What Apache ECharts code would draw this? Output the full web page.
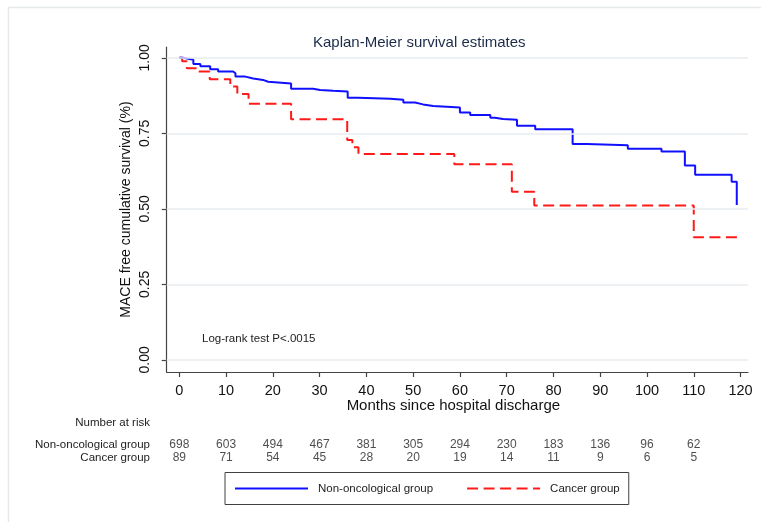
<!DOCTYPE html>
<html>
<head>
<meta charset="utf-8">
<script src="https://cdn.jsdelivr.net/npm/echarts@6/dist/echarts.min.js"></script>
<style>
html,body{margin:0;padding:0;background:#fff;}
#chart{width:761px;height:522px;}
</style>
</head>
<body>
<div id="chart"></div>
<script>
// ---- data ----
var blueMonths = [0, 0.9, 3.0, 4.5, 6.6, 8.3, 11.5, 12.0, 14.1, 15.8, 17.9, 19.0, 23.9, 28.6, 30.1, 32.9, 36.0, 38.2, 45.1, 47.9, 50.4, 52.1, 54.3, 60.0, 62.2, 66.5, 67.5, 69.2, 72.2, 76.1, 84.1, 87.1, 95.9, 103.1, 108.1, 110.3, 118.1, 119.2];
var blueSurv = [1.0, 0.994, 0.980, 0.972, 0.962, 0.955, 0.949, 0.938, 0.932, 0.927, 0.921, 0.915, 0.898, 0.894, 0.891, 0.889, 0.868, 0.865, 0.861, 0.852, 0.846, 0.841, 0.836, 0.819, 0.811, 0.802, 0.798, 0.795, 0.775, 0.764, 0.715, 0.711, 0.699, 0.690, 0.644, 0.613, 0.590, 0.513];
var redMonths = [0, 0.6, 1.6, 4.0, 6.5, 10.9, 12.4, 14.8, 23.9, 35.9, 37.0, 38.3, 58.8, 71.1, 75.9, 110.0, 119.4];
var redSurv = [1.0, 0.989, 0.966, 0.955, 0.929, 0.905, 0.880, 0.848, 0.797, 0.728, 0.704, 0.682, 0.648, 0.557, 0.511, 0.406, 0.406];
var xTicks = [0, 10, 20, 30, 40, 50, 60, 70, 80, 90, 100, 110, 120];
var yTicks = [0, 0.25, 0.5, 0.75, 1.0];
var riskMonths = [0, 10, 20, 30, 40, 50, 60, 70, 80, 90, 100, 110];
var nonOncRisk = [698, 603, 494, 467, 381, 305, 294, 230, 183, 136, 96, 62];
var cancerRisk = [89, 71, 54, 45, 28, 20, 19, 14, 11, 9, 6, 5];
var groupNames = ['Non-oncological group', 'Cancer group'];

// ---- build ----
function pairs(xs, ys) { return xs.map(function (x, i) { return [x, ys[i]]; }); }
var FONT = '"Liberation Sans", Arial, sans-serif';
var XMIN = -2.7, XMAX = 121.6;
var riskData = [];
riskMonths.forEach(function (m, i) {
  riskData.push([m, groupNames[0], nonOncRisk[i]]);
  riskData.push([m, groupNames[1], cancerRisk[i]]);
});

var chart = echarts.init(document.getElementById('chart'), null, {renderer: 'canvas'});
chart.setOption({
  backgroundColor: '#ffffff',
  animation: false,
  textStyle: {fontFamily: FONT},
  title: {
    text: 'Kaplan-Meier survival estimates',
    left: 313, top: 35, padding: 0,
    textStyle: {fontFamily: FONT, fontSize: 15, fontWeight: 'normal', color: '#1c2b4a'}
  },
  graphic: [
    {type: 'rect', shape: {x: 8.5, y: 7.5, width: 800, height: 600}, style: {fill: null, stroke: '#e4eaea', lineWidth: 1.5}, silent: true, z: -10},
    {type: 'text', x: 202, y: 339, style: {text: 'Log-rank test P<.0015', font: '11.5px ' + FONT, fill: '#222', textVerticalAlign: 'middle'}},
    {type: 'text', x: 150, y: 423, style: {text: 'Number at risk', font: '11.5px ' + FONT, fill: '#222', textAlign: 'right', textVerticalAlign: 'middle'}}
  ],
  legend: {
    left: 225, top: 472.5,
    padding: [10, 9, 10, 9],
    borderColor: '#404040', borderWidth: 1,
    itemWidth: 73, itemHeight: 14, itemGap: 33,
    itemStyle: {opacity: 0},
    textStyle: {fontFamily: FONT, fontSize: 11.5, color: '#222', padding: [0, 0, 0, 5]},
    data: groupNames
  },
  grid: [
    {left: 166.7, right: 13, top: 47, bottom: 150, containLabel: false},
    {left: 166.7, right: 13, top: 438, height: 26.7, containLabel: false}
  ],
  xAxis: [
    {
      type: 'value', gridIndex: 0, min: XMIN, max: XMAX,
      name: 'Months since hospital discharge', nameLocation: 'middle', nameGap: 26,
      nameMoveOverlap: false,
      nameTextStyle: {fontFamily: FONT, fontSize: 15, color: '#111', padding: [0, 8, 0, 0]},
      axisLine: {show: true, onZero: false, lineStyle: {color: '#444', width: 1.2}},
      axisTick: {show: true, length: 5, customValues: xTicks, lineStyle: {color: '#444', width: 1.2}},
      axisLabel: {customValues: xTicks, margin: 11, fontFamily: FONT, fontSize: 14.5, color: '#111'},
      splitLine: {show: false}
    },
    {
      type: 'value', gridIndex: 1, min: XMIN, max: XMAX, show: false
    }
  ],
  yAxis: [
    {
      type: 'value', gridIndex: 0, min: -0.04, max: 1.036,
      name: 'MACE free cumulative survival (%)', nameLocation: 'middle', nameGap: 33.5,
      nameMoveOverlap: false,
      nameTextStyle: {fontFamily: FONT, fontSize: 14, color: '#111'},
      axisLine: {show: true, onZero: false, lineStyle: {color: '#444', width: 1.2}},
      axisTick: {show: true, length: 5, customValues: yTicks, lineStyle: {color: '#444', width: 1.2}},
      axisLabel: {customValues: yTicks, rotate: 90, margin: 15, fontFamily: FONT, fontSize: 14, color: '#111',
        formatter: function (v) { return v.toFixed(2); }},
      splitLine: {show: false}
    },
    {
      type: 'category', gridIndex: 1, data: groupNames.slice().reverse(),
      axisLine: {show: false}, axisTick: {show: false}, splitLine: {show: false},
      axisLabel: {interval: 0, margin: 16.7, fontFamily: FONT, fontSize: 11.5, color: '#222'}
    }
  ],
  series: [
    {
      type: 'line', name: '_grid', xAxisIndex: 0, yAxisIndex: 0, data: [], z: 1, silent: true,
      markLine: {
        silent: true, symbol: 'none', label: {show: false}, animation: false,
        lineStyle: {color: '#e8edf0', width: 1.5, type: 'solid'},
        data: yTicks.map(function (v) { return {yAxis: v}; })
      }
    },
    {
      type: 'line', name: groupNames[0], xAxisIndex: 0, yAxisIndex: 0, step: 'end',
      symbol: 'none', z: 4,
      lineStyle: {color: '#1010ff', width: 2}, itemStyle: {color: '#1010ff'},
      data: pairs(blueMonths, blueSurv)
    },
    {
      type: 'line', name: groupNames[1], xAxisIndex: 0, yAxisIndex: 0, step: 'end',
      symbol: 'none', z: 3,
      lineStyle: {color: '#ff1a1a', width: 2, type: [11, 5.5]}, itemStyle: {color: '#ff1a1a'},
      data: pairs(redMonths, redSurv)
    },
    {
      type: 'scatter', name: '_risk', xAxisIndex: 1, yAxisIndex: 1, symbolSize: 0, silent: true,
      label: {show: true, position: 'inside', fontFamily: FONT, fontSize: 12, color: '#222',
        formatter: function (p) { return String(p.value[2]); }},
      data: riskData
    }
  ]
});
</script>
</body>
</html>
